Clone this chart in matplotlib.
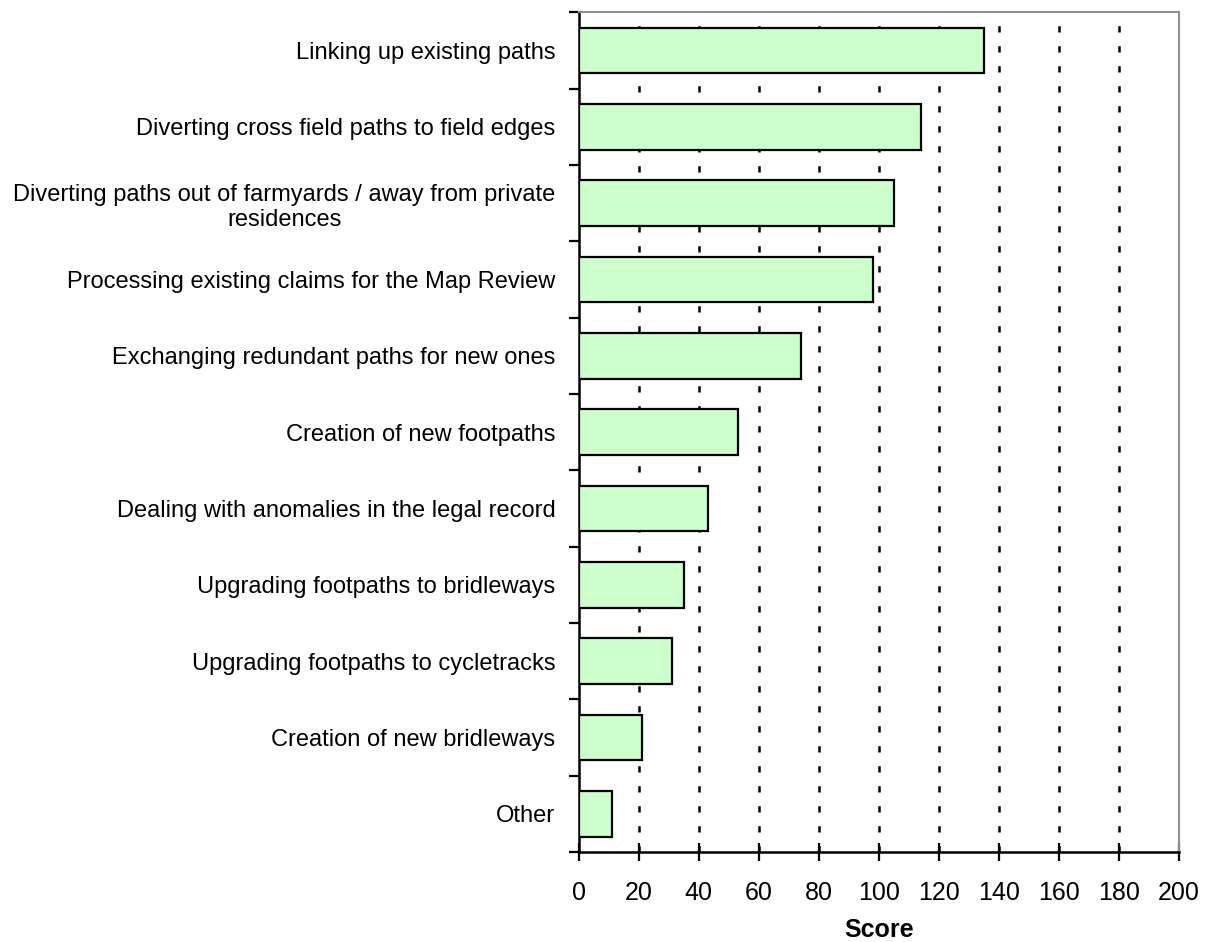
import numpy as np
import matplotlib.pyplot as plt

plt.rcParams['font.family'] = ['Liberation Sans', 'DejaVu Sans']

categories = [
    'Linking up existing paths',
    'Diverting cross field paths to field edges',
    'Diverting paths out of farmyards / away from private\nresidences',
    'Processing existing claims for the Map Review',
    'Exchanging redundant paths for new ones',
    'Creation of new footpaths',
    'Dealing with anomalies in the legal record',
    'Upgrading footpaths to bridleways',
    'Upgrading footpaths to cycletracks',
    'Creation of new bridleways',
    'Other',
]
scores = [135, 114, 105, 98, 74, 53, 43, 35, 31, 21, 11]
xticks = [0, 20, 40, 60, 80, 100, 120, 140, 160, 180, 200]

fig = plt.figure(figsize=(12.15, 9.42), dpi=100)
ax = fig.add_axes([0.4765, 0.0955, 0.4935, 0.8915])

y = np.arange(len(categories))
ax.barh(y, scores, height=0.6, color='#CCFFCC', edgecolor='black',
        linewidth=1.6, zorder=3)

# vertical dotted grid
for v in xticks[1:-1]:
    ax.axvline(v, color='black', linewidth=1.8, linestyle=(0, (2.5, 5.5)), zorder=1)

ax.set_xlim(0, 200)
ax.set_ylim(len(categories) - 0.5, -0.5)
ax.set_xticks(xticks)
ax.set_xticklabels([str(v) for v in xticks], fontsize=18)
ax.set_xlabel('Score', fontsize=18, fontweight='bold', labelpad=10)

ax.set_yticks(y)
ax.set_yticklabels(categories, fontsize=17, ha='right', multialignment='center')
ax.tick_params(axis='y', which='major', length=0, pad=17)
ax.set_yticks(np.arange(-0.5, len(categories)), minor=True)
ax.tick_params(axis='y', which='minor', length=7, width=1.6, direction='out')
ax.tick_params(axis='x', length=13, width=1.6, direction='inout', pad=14)

for s in ['left', 'bottom']:
    ax.spines[s].set_linewidth(1.8)
    ax.spines[s].set_color('black')
for s in ['top', 'right']:
    ax.spines[s].set_linewidth(1.5)
    ax.spines[s].set_color('#909090')

fig.savefig('out.png', dpi=100)
